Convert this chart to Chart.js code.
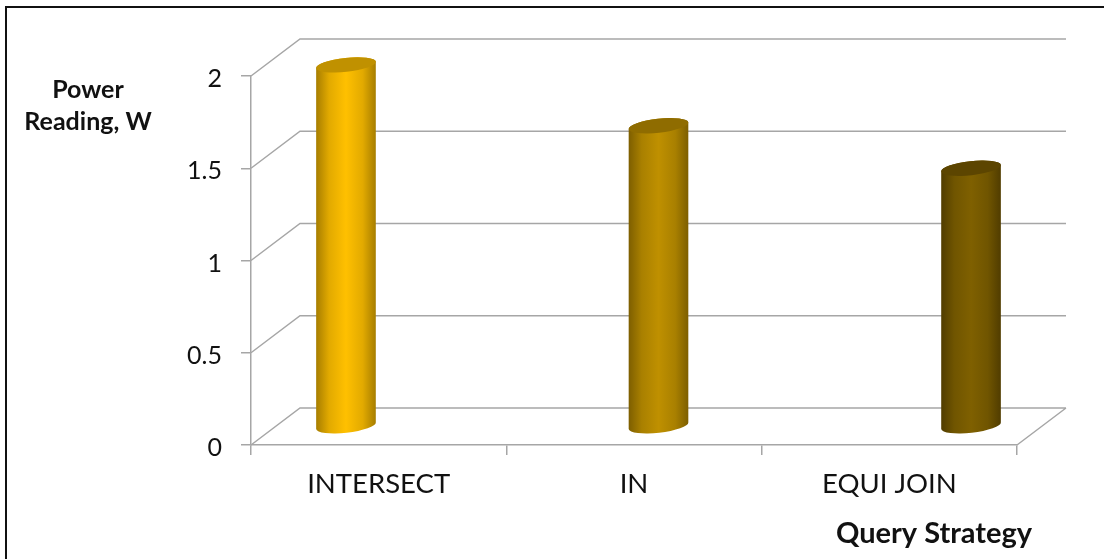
<!DOCTYPE html>
<html>
<head>
<meta charset="utf-8">
<title>Power Reading by Query Strategy</title>
<style>
  html, body { margin: 0; padding: 0; background: #fff; overflow: hidden; }
  canvas { display: block; }
</style>
<script src="https://cdn.jsdelivr.net/npm/chart.js@4.4.7/dist/chart.umd.js"></script>
</head>
<body>
<canvas id="powerChart" width="1104" height="559"></canvas>
<script>
const categories = ['INTERSECT', 'IN', 'EQUI JOIN'];
const powerValues = [1.96, 1.63, 1.40];
const yTickLabels = ['0', '0.5', '1', '1.5', '2'];

const barColors = ['#ffc000', '#bf9000', '#7f6000'];
const barMids = ['#e2aa00', '#a98000', '#705500'];
const barEdges = ['#a67d00', '#7d5e00', '#503c00'];
const barTops = ['#c09100', '#8f6c00', '#5c4500'];

const gridColor = '#a6a6a6';
const textColor = '#111111';
const depthX = 49;
const depthY = 37;
const barSpread = 1.224; // the 3d view spreads the bars wider than the categories

// side walls and floor, drawn from the axis ticks
const wallsPlugin = {
  id: 'walls',
  beforeDatasetsDraw(chart) {
    const { ctx, scales: { x, y } } = chart;
    ctx.save();
    ctx.strokeStyle = gridColor;
    ctx.lineWidth = 1.5;
    ctx.beginPath();
    y.ticks.forEach((tick) => {
      const py = y.getPixelForValue(tick.value);
      ctx.moveTo(x.left, py);
      ctx.lineTo(x.left + depthX, py - depthY);
      ctx.lineTo(x.right + depthX, py - depthY);
    });
    ctx.moveTo(x.right, y.bottom);
    ctx.lineTo(x.right + depthX, y.bottom - depthY);
    ctx.stroke();
    ctx.restore();
  },
};

function drawCylinder(ctx, cx, top, bottom, width, index) {
  const rx = width / 2;
  const ry = 7;
  const tilt = -0.11;
  const grad = ctx.createLinearGradient(cx - rx, 0, cx + rx, 0);
  grad.addColorStop(0, barEdges[index]);
  grad.addColorStop(0.22, barMids[index]);
  grad.addColorStop(0.5, barColors[index]);
  grad.addColorStop(0.78, barMids[index]);
  grad.addColorStop(1, barEdges[index]);

  ctx.fillStyle = grad;
  ctx.beginPath();
  ctx.ellipse(cx, bottom, rx, ry, tilt, 0, Math.PI);
  ctx.ellipse(cx, top, rx, ry, tilt, Math.PI, Math.PI * 2);
  ctx.closePath();
  ctx.fill();

  ctx.fillStyle = barTops[index];
  ctx.beginPath();
  ctx.ellipse(cx, top, rx, ry, tilt, 0, Math.PI * 2);
  ctx.fill();
}

// swaps the flat bars for cylinders standing in the middle of the floor
const cylinderPlugin = {
  id: 'cylinders',
  beforeDatasetDraw(chart, args) {
    const { ctx, scales: { x } } = chart;
    const midX = (x.left + x.right) / 2;
    args.meta.data.forEach((bar, i) => {
      const cx = midX + (bar.x - midX) * barSpread + depthX / 2;
      drawCylinder(ctx, cx, bar.y - depthY / 2, bar.base - depthY / 2, bar.width, i);
    });
    return false;
  },
};

// frame (top and left only) and the two axis captions
const captionsPlugin = {
  id: 'captions',
  afterDraw(chart) {
    const { ctx, width, height } = chart;
    ctx.save();
    ctx.strokeStyle = '#111111';
    ctx.lineWidth = 2;
    ctx.beginPath();
    ctx.moveTo(6, height);
    ctx.lineTo(6, 7);
    ctx.lineTo(width, 7);
    ctx.stroke();
    ctx.fillStyle = textColor;
    ctx.textAlign = 'center';
    ctx.font = 'bold 25px Lato';
    ctx.fillText('Power', 88, 98);
    ctx.fillText('Reading, W', 88, 130);
    ctx.font = 'bold 29px Lato';
    ctx.fillText('Query Strategy', 934, 543);
    ctx.restore();
  },
};

new Chart(document.getElementById('powerChart'), {
  type: 'bar',
  data: {
    labels: categories,
    datasets: [{
      label: 'Power Reading, W',
      data: powerValues,
      backgroundColor: barColors,
      barThickness: 60,
    }],
  },
  plugins: [wallsPlugin, cylinderPlugin, captionsPlugin],
  options: {
    responsive: false,
    animation: false,
    layout: { padding: { top: 76, right: 87, left: 0, bottom: 0 } },
    plugins: { legend: { display: false }, tooltip: { enabled: false } },
    scales: {
      x: {
        border: { color: gridColor, width: 1.5 },
        grid: { drawOnChartArea: false, color: gridColor, lineWidth: 1.5, tickLength: 10 },
        ticks: { color: textColor, font: { family: 'Lato', size: 27.5 }, padding: 13, maxRotation: 0 },
        afterFit(scale) { scale.height = 114; },
      },
      y: {
        min: 0,
        max: 2,
        afterBuildTicks(scale) {
          scale.ticks = yTickLabels.map((label) => ({ value: Number(label) }));
        },
        border: { color: gridColor, width: 1.5 },
        grid: { drawOnChartArea: false, color: gridColor, lineWidth: 1.5, tickLength: 10 },
        ticks: {
          color: textColor,
          font: { family: 'Lato', size: 25 },
          padding: 19,
          labelOffset: 3,
          callback(value) { return String(value); },
        },
        afterFit(scale) { scale.width = 251; },
      },
    },
  },
});
</script>
</body>
</html>
